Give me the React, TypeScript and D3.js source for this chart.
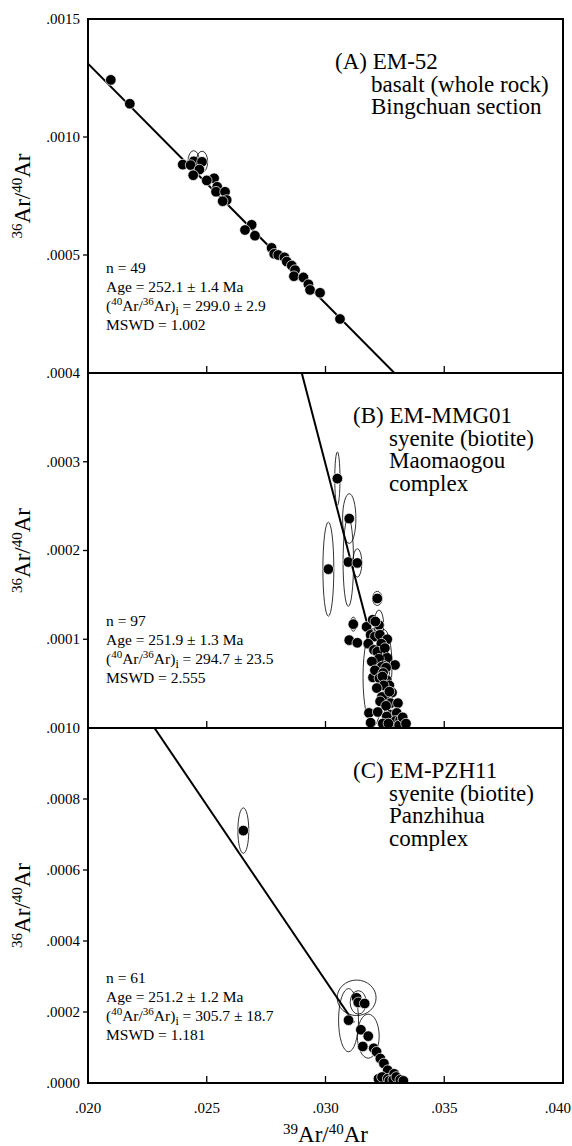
import { useEffect, useRef } from 'react';
import * as d3 from 'd3';

// [39Ar/40Ar, 36Ar/40Ar, half error x, half error y]
const emA = [
  [0.02096, 0.001242, 0, 0],
  [0.02176, 0.001141, 0, 0],
  [0.02445, 0.000897, 0.00024, 0.000045],
  [0.02480, 0.000895, 0.00024, 0.000045],
  [0.02399, 0.000883, 0, 0],
  [0.02432, 0.000881, 0, 0],
  [0.02469, 0.000862, 0, 0],
  [0.02443, 0.000838, 0, 0],
  [0.02531, 0.000825, 0.0001, 0.00002],
  [0.02500, 0.000816, 0, 0],
  [0.02544, 0.000789, 0.0001, 0.00002],
  [0.02539, 0.000768, 0, 0],
  [0.02577, 0.000768, 0, 0],
  [0.02584, 0.000733, 0, 0],
  [0.02567, 0.000728, 0.0001, 0.00002],
  [0.02689, 0.000628, 0, 0],
  [0.02661, 0.000606, 0, 0],
  [0.02703, 0.000582, 0.0001, 0.00002],
  [0.02773, 0.000530, 0, 0],
  [0.02784, 0.000505, 0, 0],
  [0.02801, 0.000500, 0.0001, 0.00002],
  [0.02827, 0.000490, 0.00012, 0.00002],
  [0.02837, 0.000472, 0, 0],
  [0.02858, 0.000455, 0.00016, 0.000022],
  [0.02872, 0.000436, 0, 0],
  [0.02867, 0.000410, 0, 0],
  [0.02907, 0.000405, 0.0001, 0.00002],
  [0.02928, 0.000376, 0, 0],
  [0.02935, 0.000352, 0, 0],
  [0.02977, 0.000340, 0, 0],
  [0.03061, 0.000229, 0.0001, 0.00002],
];

const emB = [
  [0.03050, 0.000281, 0.00011, 0.00003],
  [0.03100, 0.000236, 0.00028, 0.000028],
  [0.03012, 0.000179, 0.00023, 0.000053],
  [0.03096, 0.000187, 0.00022, 0.00005],
  [0.03134, 0.000186, 0.00019, 0.000016],
  [0.03218, 0.000146, 0.0002, 0.000008],
  [0.03117, 0.000117, 0.00012, 0.000008],
  [0.03100, 0.000099, 0, 0],
  [0.03134, 0.000096, 0, 0],
  [0.03173, 0.000114, 0, 0],
  [0.03199, 0.000122, 0, 0],
  [0.03225, 0.000116, 0.0002, 0.000017],
  [0.03210, 0.000120, 0, 0],
  [0.03190, 0.000105, 0, 0],
  [0.03208, 0.000103, 0, 0],
  [0.03180, 0.000095, 0, 0],
  [0.03229, 0.000105, 0, 0],
  [0.03260, 0.000100, 0, 0],
  [0.03235, 0.000095, 0, 0],
  [0.03204, 0.000088, 0, 0],
  [0.03218, 0.000086, 0, 0],
  [0.03250, 0.000090, 0, 0],
  [0.03260, 0.000079, 0, 0],
  [0.03293, 0.000071, 0, 0],
  [0.03225, 0.000078, 0, 0],
  [0.03195, 0.000075, 0, 0],
  [0.03200, 0.000057, 0.00042, 0.000055],
  [0.03246, 0.000070, 0.00034, 0.000041],
  [0.03237, 0.000069, 0, 0],
  [0.03255, 0.000068, 0.00015, 0.00002],
  [0.03208, 0.000065, 0, 0],
  [0.03243, 0.000062, 0, 0],
  [0.03227, 0.000056, 0, 0],
  [0.03258, 0.000054, 0, 0],
  [0.03240, 0.000058, 0, 0],
  [0.03269, 0.000048, 0, 0],
  [0.03245, 0.000048, 0, 0],
  [0.03216, 0.000045, 0, 0],
  [0.03280, 0.000040, 0, 0],
  [0.03250, 0.000036, 0, 0],
  [0.03237, 0.000035, 0, 0],
  [0.03269, 0.000041, 0.00015, 0.000012],
  [0.03230, 0.000030, 0, 0],
  [0.03274, 0.000028, 0, 0],
  [0.03305, 0.000028, 0, 0],
  [0.03255, 0.000025, 0, 0],
  [0.03183, 0.000017, 0, 0],
  [0.03220, 0.000018, 0, 0],
  [0.03275, 0.000015, 0, 0],
  [0.03190, 0.000006, 0, 0],
  [0.03258, 0.000013, 0.00012, 0.00001],
  [0.03241, 0.000005, 0, 0],
  [0.03300, 0.000017, 0, 0],
  [0.03285, 0.000005, 0, 0],
  [0.03295, 0.000008, 0, 0],
  [0.03314, 0.000009, 0.0001, 0.000006],
  [0.03310, 0.000003, 0, 0],
  [0.03325, 0.000012, 0, 0],
  [0.03339, 0.000005, 0, 0],
  [0.03265, 0.000005, 0, 0],
];

const emC = [
  [0.02654, 0.000711, 0.00023, 0.000064],
  [0.03097, 0.000177, 0.00042, 0.000089],
  [0.03131, 0.000240, 0.00082, 0.00005],
  [0.03138, 0.000227, 0.00034, 0.000033],
  [0.03165, 0.000224, 0, 0],
  [0.03149, 0.000150, 0, 0],
  [0.03180, 0.000132, 0.00046, 0.000062],
  [0.03157, 0.000103, 0, 0],
  [0.03203, 0.000098, 0, 0],
  [0.03215, 0.000088, 0, 0],
  [0.03231, 0.000069, 0, 0],
  [0.03246, 0.000055, 0, 0],
  [0.03262, 0.000036, 0, 0],
  [0.03223, 0.000012, 0, 0],
  [0.03238, 0.000017, 0, 0],
  [0.03262, 0.000012, 0, 0],
  [0.03289, 0.000026, 0.00012, 0.00001],
  [0.03269, 0.000006, 0, 0],
  [0.03285, 0.000009, 0.0001, 0.000008],
  [0.03298, 0.000017, 0, 0],
  [0.03315, 0.000009, 0, 0],
  [0.03328, 0.000006, 0.0001, 0.000006],
];

// isochron lines (endpoints in data units)
const lineA = [[0.0200, 0.001311], [0.0329, 0]];
const lineB = [[0.0290, 0.0004], [0.0329, 0]];
const lineC = [[0.0228, 0.0010], [0.0312, 0.00017]];

const xTicks = [0.020, 0.025, 0.030, 0.035, 0.040];
const xTickLabels = ['.020', '.025', '.030', '.035', '.040'];

const panels = [
  {
    id: 'A', data: emA, line: lineA, max: 0.0015,
    ticks: [0.0015, 0.0010, 0.0005], labels: ['.0015', '.0010', '.0005'],
    title: ['(A) EM-52', 'basalt (whole rock)', 'Bingchuan section'],
    n: '49', age: '252.1 ± 1.4 Ma', ratio: '299.0 ± 2.9', mswd: '1.002',
  },
  {
    id: 'B', data: emB, line: lineB, max: 0.0004,
    ticks: [0.0004, 0.0003, 0.0002, 0.0001], labels: ['.0004', '.0003', '.0002', '.0001'],
    title: ['(B) EM-MMG01', 'syenite (biotite)', 'Maomaogou', 'complex'],
    n: '97', age: '251.9 ± 1.3 Ma', ratio: '294.7 ± 23.5', mswd: '2.555',
  },
  {
    id: 'C', data: emC, line: lineC, max: 0.0010,
    ticks: [0.0010, 0.0008, 0.0006, 0.0004, 0.0002, 0.0000],
    labels: ['.0010', '.0008', '.0006', '.0004', '.0002', '.0000'],
    title: ['(C) EM-PZH11', 'syenite (biotite)', 'Panzhihua', 'complex'],
    n: '61', age: '251.2 ± 1.2 Ma', ratio: '305.7 ± 18.7', mswd: '1.181',
  },
];

function App() {
  const ref = useRef(null);

  useEffect(() => {
    const svg = d3.select(ref.current);
    svg.selectAll('*').remove();

    const left = 88, right = 563;
    const bounds = [19, 373, 728, 1083];
    const font = '"Liberation Serif", "Times New Roman", serif';

    const x = d3.scaleLinear().domain([0.020, 0.040]).range([left, right]);

    panels.forEach((p, i) => {
      const top = bounds[i], bottom = bounds[i + 1];
      const y = d3.scaleLinear().domain([0, p.max]).range([bottom, top]);
      const g = svg.append('g');

      g.append('clipPath').attr('id', 'clip' + p.id)
        .append('rect').attr('x', left).attr('y', top)
        .attr('width', right - left).attr('height', bottom - top);

      // regression line
      g.append('path')
        .attr('clip-path', `url(#clip${p.id})`)
        .attr('d', d3.line().x(d => x(d[0])).y(d => y(d[1]))(p.line))
        .attr('fill', 'none').attr('stroke', '#000').attr('stroke-width', 2);

      // points with error ellipses
      const pts = g.append('g').attr('clip-path', `url(#clip${p.id})`);
      p.data.forEach(d => {
        if (d[2] > 0) {
          pts.append('ellipse')
            .attr('cx', x(d[0])).attr('cy', y(d[1]))
            .attr('rx', x(d[0] + d[2]) - x(d[0]))
            .attr('ry', y(d[1]) - y(d[1] + d[3]))
            .attr('fill', 'none').attr('stroke', '#000').attr('stroke-width', 0.8);
        }
        pts.append('circle')
          .attr('cx', x(d[0])).attr('cy', y(d[1])).attr('r', 5.3)
          .attr('fill', '#000').attr('stroke', '#fff').attr('stroke-width', 0.7);
      });

      // y ticks (outward) and labels
      p.ticks.forEach((t, k) => {
        const yy = y(t);
        if (yy > top + 1 && yy < bottom - 1) {
          g.append('line').attr('x1', left - 5).attr('x2', left)
            .attr('y1', yy).attr('y2', yy).attr('stroke', '#000').attr('stroke-width', 1.3);
        }
        g.append('text').attr('x', 80).attr('y', yy).attr('dy', '0.32em')
          .attr('text-anchor', 'end').style('font-family', font).style('font-size', '15px')
          .text(p.labels[k]);
      });

      // x ticks (inward, at panel bottom)
      xTicks.slice(1, -1).forEach(t => {
        g.append('line').attr('x1', x(t)).attr('x2', x(t))
          .attr('y1', bottom).attr('y2', bottom - 7)
          .attr('stroke', '#000').attr('stroke-width', 1.3);
      });

      // frame
      g.append('rect').attr('x', left).attr('y', top)
        .attr('width', right - left).attr('height', bottom - top)
        .attr('fill', 'none').attr('stroke', '#000').attr('stroke-width', 2);

      // sample title
      const tx = p.id === 'A' ? 335 : 353;
      p.title.forEach((s, k) => {
        g.append('text')
          .attr('x', k === 0 ? tx : tx + 36)
          .attr('y', top + 50 + k * 22.5)
          .style('font-family', font).style('font-size', '23px')
          .text(s);
      });

      // statistics block
      const sy = [top + 254, top + 253, top + 255][i];
      const st = g.append('text').style('font-family', font).style('font-size', '15.5px');
      st.append('tspan').attr('x', 106).attr('y', sy).text(`n =  ${p.n}`);
      st.append('tspan').attr('x', 106).attr('y', sy + 19).text(`Age = ${p.age}`);
      const r = st.append('tspan').attr('x', 106).attr('y', sy + 38);
      r.append('tspan').text('(');
      r.append('tspan').attr('dy', -6).style('font-size', '11px').text('40');
      r.append('tspan').attr('dy', 6).text('Ar/');
      r.append('tspan').attr('dy', -6).style('font-size', '11px').text('36');
      r.append('tspan').attr('dy', 6).text('Ar)');
      r.append('tspan').attr('dy', 4).style('font-size', '12px').text('i');
      r.append('tspan').attr('dy', -4).text(` = ${p.ratio}`);
      st.append('tspan').attr('x', 106).attr('y', sy + 57).text(`MSWD = ${p.mswd}`);

      // y axis title
      const yt = g.append('text')
        .attr('transform', `translate(30, ${(top + bottom) / 2}) rotate(-90)`)
        .attr('text-anchor', 'middle')
        .style('font-family', font).style('font-size', '23px');
      yt.append('tspan').attr('dy', -8).style('font-size', '15px').text('36');
      yt.append('tspan').attr('dy', 8).text('Ar/');
      yt.append('tspan').attr('dy', -8).style('font-size', '15px').text('40');
      yt.append('tspan').attr('dy', 8).text('Ar');
    });

    // x tick labels (last one pulled in so it stays on the page)
    xTicks.forEach((t, k) => {
      svg.append('text').attr('x', k === xTicks.length - 1 ? 571 : x(t)).attr('y', 1113)
        .attr('text-anchor', k === xTicks.length - 1 ? 'end' : 'middle')
        .style('font-family', font).style('font-size', '15px')
        .text(xTickLabels[k]);
    });

    // x axis title
    const xt = svg.append('text').attr('x', (left + right) / 2).attr('y', 1142)
      .attr('text-anchor', 'middle')
      .style('font-family', font).style('font-size', '23px');
    xt.append('tspan').attr('dy', -8).style('font-size', '15px').text('39');
    xt.append('tspan').attr('dy', 8).text('Ar/');
    xt.append('tspan').attr('dy', -8).style('font-size', '15px').text('40');
    xt.append('tspan').attr('dy', 8).text('Ar');
  }, []);

  return (
    <div style={{ position: 'absolute', left: 0, top: 0, background: '#fff' }}>
      <svg ref={ref} width={572} height={1146} style={{ display: 'block' }} />
    </div>
  );
}

export default App;
